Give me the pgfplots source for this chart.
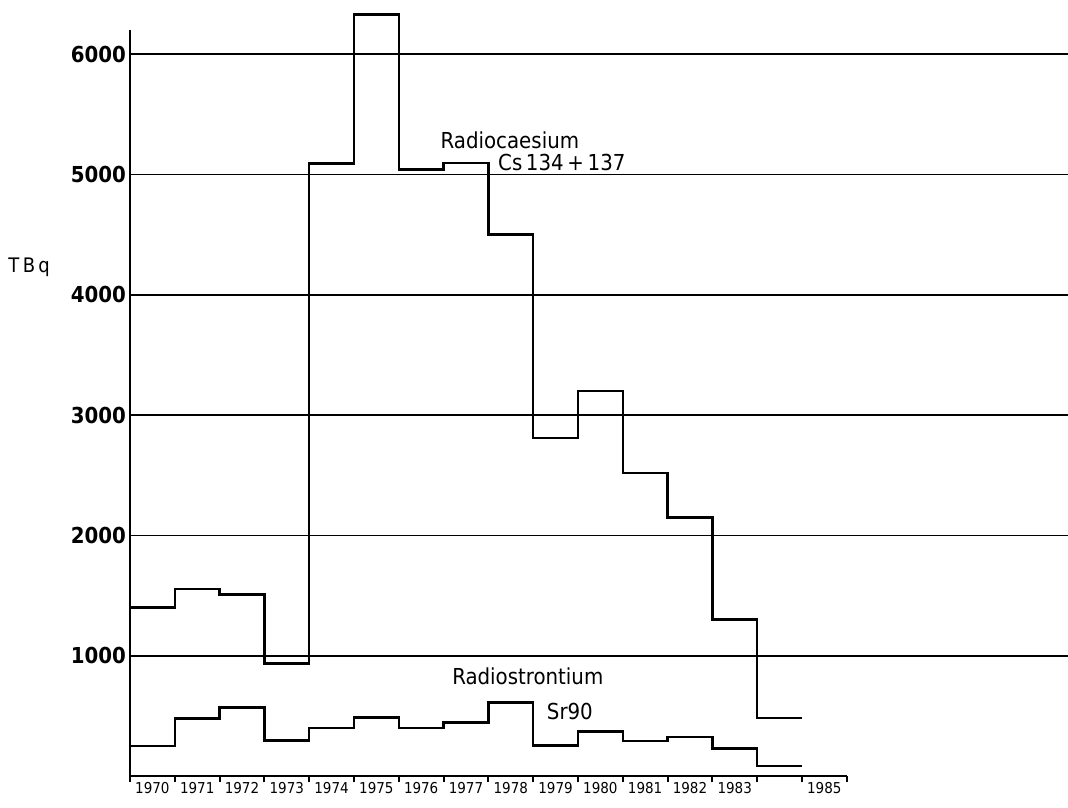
\documentclass[border=0pt]{standalone}
\usepackage{fontspec}
\setmainfont{DejaVu Sans Condensed}
\usepackage{pgfplots}
\pgfplotsset{compat=1.18}
\begin{document}
\begin{tikzpicture}
\begin{axis}[
  at={(0,0)}, anchor=south west,
  scale only axis, width=469pt, height=373pt,
  xmin=1970, xmax=1990.94, ymin=0, ymax=6200,
  axis x line=bottom, axis y line=left,
  axis line style={-, line width=1.1pt, black},
  x axis line style={draw=none},
  clip=false,
  /pgf/number format/assume math mode=true,
  tick align=outside,
  xtick={1970,1971,1972,1973,1974,1975,1976,1977,1978,1979,1980,1981,1982,1983,1984,1985,1986},
  xticklabels={},
  x tick style={line width=1pt, black},
  major tick length=3pt,
  extra x ticks={1970.5,1971.5,1972.5,1973.5,1974.5,1975.5,1976.5,1977.5,1978.5,1979.5,1980.5,1981.5,1982.5,1983.5,1985.5},
  extra x tick labels={1970,1971,1972,1973,1974,1975,1976,1977,1978,1979,1980,1981,1982,1983,1985},
  extra x tick style={major tick length=0pt, xticklabel style={font=\fontsize{7.5}{8}\selectfont, yshift=0.5pt}},
  ytick={1000,2000,3000,4000,5000,6000},
  yticklabels={1000,2000,3000,4000,5000,6000},
  y tick style={draw=none},
  yticklabel style={font=\bfseries\fontsize{11}{11}\selectfont, xshift=4.5pt},
  ymajorgrids,
  grid style={black, line width=0.85pt},
]
\addplot[const plot, black, line width=1.25pt] coordinates {
 (1970,1400) (1971,1555) (1972,1510) (1973,935) (1974,5090) (1975,6330)
 (1976,5040) (1977,5095) (1978,4500) (1979,2810) (1980,3200) (1981,2520)
 (1982,2150) (1983,1300) (1984,480) (1985,480)};
\addplot[const plot, black, line width=1.25pt] coordinates {
 (1970,250) (1971,478) (1972,570) (1973,295) (1974,400) (1975,487)
 (1976,400) (1977,443) (1978,609) (1979,254) (1980,369) (1981,292)
 (1982,325) (1983,229) (1984,83) (1985,83)};
\node[font=\fontsize{11}{12}\selectfont] at (axis cs:1978.48,5287) {Radiocaesium};
\node[font=\fontsize{11}{12}\selectfont] at (axis cs:1979.64,5095) {Cs\,134\,+\,137};
\node[font=\fontsize{11}{12}\selectfont] at (axis cs:1978.88,831) {Radiostrontium};
\node[font=\fontsize{11}{12}\selectfont] at (axis cs:1979.82,532) {Sr90};
\node[font=\fontsize{10}{11}\selectfont] at (axis cs:1967.75,4231) {T\,B\,q};
\draw[line width=1.1pt, black] (axis cs:1970,0) -- (axis cs:1986,0);
\end{axis}
\pgfresetboundingbox
\path[use as bounding box] (-65pt,-15.5pt) rectangle (469pt,388pt);
\end{tikzpicture}
\end{document}
